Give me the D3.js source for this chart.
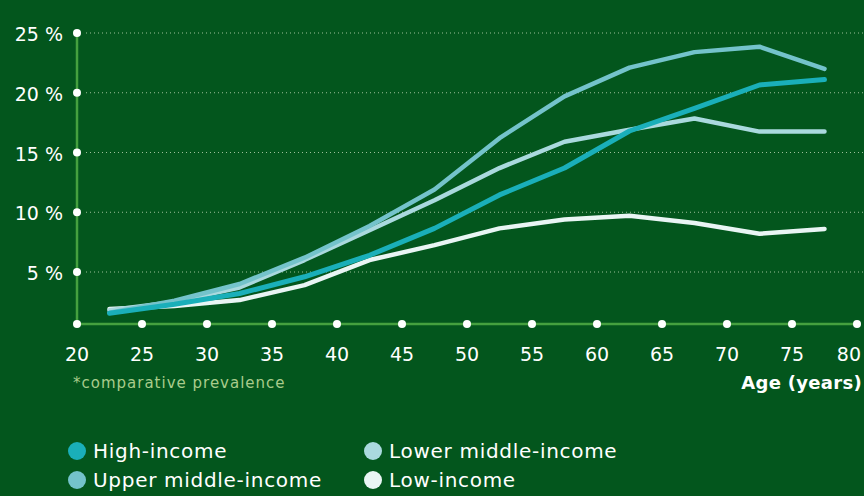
<!DOCTYPE html>
<html><head><meta charset="utf-8">
<script src="https://cdn.jsdelivr.net/npm/d3@7"></script>
<style>
html,body{margin:0;padding:0;background:#03561d;}
svg{display:block;font-family:"DejaVu Sans",sans-serif;}
</style></head>
<body><svg id="c" width="864" height="496"></svg>
<script>
const ages = [22.5,27.5,32.5,37.5,42.5,47.5,52.5,57.5,62.5,67.5,72.5,77.5];
const highIncome = [1.55,2.3,3.2,4.6,6.4,8.65,11.45,13.7,16.8,18.7,20.65,21.1];
const upperMiddle = [1.6,2.6,4.0,6.2,8.85,11.9,16.2,19.7,22.1,23.4,23.85,22.0];
const lowerMiddle = [1.8,2.5,3.7,6.0,8.5,11.0,13.7,15.9,16.9,17.85,16.75,16.75];
const lowIncome = [1.9,2.15,2.65,3.9,6.0,7.25,8.65,9.4,9.7,9.1,8.2,8.6];
const seriesNames = ["High-income","Upper middle-income","Lower middle-income","Low-income"];
const xTicks = [20,25,30,35,40,45,50,55,60,65,70,75,80];
const yTicks = [5,10,15,20,25];
const colors = {"High-income":"#1aafb9","Upper middle-income":"#74c3cb","Lower middle-income":"#aad9de","Low-income":"#e9f5f4"};

const series = [
  {name:"Low-income", values: lowIncome, w:4.5},
  {name:"Lower middle-income", values: lowerMiddle, w:4.5},
  {name:"Upper middle-income", values: upperMiddle, w:4.5},
  {name:"High-income", values: highIncome, w:5}
];

const svg = d3.select("#c");
const x = d3.scaleLinear().domain([20,80]).range([77,857]);
const y = d3.scaleLinear().domain([0.65,25]).range([324,33]);

// gridlines
svg.append("g").selectAll("line").data(yTicks).join("line")
  .attr("x1",86).attr("x2",864)
  .attr("y1",d=>y(d)).attr("y2",d=>y(d))
  .attr("stroke","#9cc09a").attr("stroke-width",1).attr("stroke-dasharray","1,3");

// axes lines
svg.append("line").attr("x1",x(20)).attr("x2",x(20)).attr("y1",y(25)).attr("y2",y.range()[0])
  .attr("stroke","#45a03f").attr("stroke-width",2.5);
svg.append("line").attr("x1",x(20)).attr("x2",x(80)).attr("y1",y.range()[0]).attr("y2",y.range()[0])
  .attr("stroke","#45a03f").attr("stroke-width",2.5);

// y ticks
const yg = svg.append("g");
yg.selectAll("circle").data(yTicks).join("circle")
  .attr("cx",x(20)).attr("cy",d=>y(d)).attr("r",4).attr("fill","#fff");
yg.selectAll("text").data(yTicks).join("text")
  .attr("x",63).attr("y",d=>y(d)+8).attr("text-anchor","end")
  .attr("fill","#fff").attr("font-size",19).text(d=>d+" %");

// x ticks
const xg = svg.append("g");
xg.selectAll("circle").data(xTicks).join("circle")
  .attr("cx",d=>x(d)).attr("cy",y.range()[0]).attr("r",4).attr("fill","#fff");
xg.selectAll("text").data(xTicks).join("text")
  .attr("x",d=>d===80 ? 861 : x(d)).attr("y",361)
  .attr("text-anchor",d=>d===80 ? "end" : "middle")
  .attr("fill","#fff").attr("font-size",19).text(d=>d);

// lines
const line = d3.line().x((d,i)=>x(ages[i])).y(d=>y(d));
svg.append("g").selectAll("path").data(series).join("path")
  .attr("d",d=>line(d.values))
  .attr("fill","none").attr("stroke",d=>colors[d.name])
  .attr("stroke-width",d=>d.w).attr("stroke-linecap","round").attr("stroke-linejoin","round");

// notes
svg.append("text").attr("x",73).attr("y",388).attr("fill","#a9cc8c").attr("font-size",15)
  .attr("letter-spacing",1).text("*comparative prevalence");
svg.append("text").attr("x",862).attr("y",389).attr("text-anchor","end").attr("fill","#fff")
  .attr("font-size",18).attr("font-weight","bold").attr("letter-spacing",0.3).text("Age (years)");

// legend
const legPos = [[77,451],[77,480],[373,451],[373,480]];
const legOrder = ["High-income","Upper middle-income","Lower middle-income","Low-income"];
const lg = svg.append("g").selectAll("g").data(legOrder).join("g")
  .attr("transform",(d,i)=>`translate(${legPos[i][0]},${legPos[i][1]})`);
lg.append("circle").attr("r",9).attr("fill",d=>colors[d]);
lg.append("text").attr("x",16).attr("y",7).attr("fill","#fff").attr("font-size",20)
  .attr("letter-spacing",0.7).text(d=>d);
</script>
</body></html>
